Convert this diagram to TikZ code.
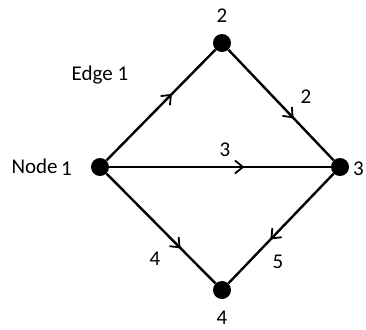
\documentclass[tikz,border=0pt]{standalone}
\usepackage{fontspec}
\setmainfont{Carlito}
\usetikzlibrary{positioning,arrows.meta,decorations.markings}
\tikzset{
    vertex/.style={
        circle,fill=black,inner sep=0pt,minimum size=18pt
    },
    lbl/.style={
        font=\fontsize{21}{24}\selectfont,inner sep=0pt
    },
    arc/.style={
        line width=2.4pt,
        postaction={decorate,decoration={markings,
            mark=at position #1 with {\arrow{Straight Barb[length=8pt,width=13pt,line width=1.8pt]}}}}
    },
    arc/.default=.6
}
\begin{document}
\begin{tikzpicture}[x=1pt,y=-1pt]
\useasboundingbox (0,0) rectangle (366,329);
\node[vertex] (v1) at (100,167) {};
\node[vertex] (v2) at (222,43) {};
\node[vertex] (v3) at (340,167) {};
\node[vertex] (v4) at (222,290) {};
\draw[arc=.6] (v1) -- (v2);
\draw[arc=.62] (v2) -- (v3);
\draw[arc=.61] (v1) -- (v3);
\draw[arc=.68] (v1) -- (v4);
\draw[arc=.6] (v3) -- (v4);
\node[lbl] (t2) at (222,16) {2};
\node[lbl] (e1) at (100,75) {Edge 1};
\node[lbl] (w2) at (306,97) {2};
\node[lbl] (w3) at (225,150) {3};
\node[lbl,anchor=east] (n1) at (72,167) {Node\,\raisebox{-2pt}{1}};
\node[lbl,anchor=west] (t3) at (353,169) {3};
\node[lbl] (w4) at (155,259) {4};
\node[lbl] (w5) at (278,262) {5};
\node[lbl] (t4) at (222,318) {4};
\end{tikzpicture}
\end{document}
